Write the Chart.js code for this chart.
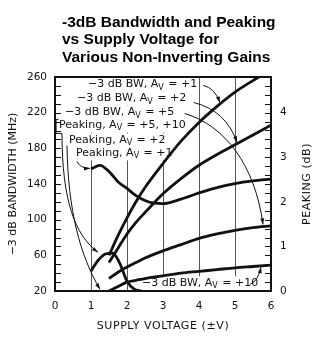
<!DOCTYPE html>
<html>
<head>
<meta charset="utf-8">
<script src="https://cdn.jsdelivr.net/npm/chart.js@4.4.1/dist/chart.umd.min.js"></script>
<style>
    html, body { margin: 0; padding: 0; background: #fff; }
    #wrap { width: 315px; height: 337px; }
</style>
</head>
<body>
<div id="wrap"><canvas id="chart" width="315" height="337"></canvas></div>
<script>
// -3 dB bandwidth (MHz) vs supply voltage (±V), one array per gain
const bwVolts = [1.5, 1.75, 2, 2.25, 2.5, 3, 3.5, 4, 4.5, 5, 5.5, 6];
const bwGain1 = [60, 82, 102, 120, 136, 163, 188, 209, 227, 243, 256, 268];
const bwGain2 = [52, 68, 84, 97, 108, 129, 146, 161, 173, 184, 195, 206];
const bwGain5 = [34, 41, 47, 52, 57, 65, 72, 79, 84, 88, 91, 93];
const bwGain10 = [20, 25, 30, 32, 34, 37, 40, 42, 44, 46, 47.5, 49];

// peaking (dB) vs supply voltage
const peakVolts1 = [1, 1.25, 1.5, 1.75, 2, 2.25, 2.5, 2.75, 3, 3.5, 4, 4.5, 5, 5.5, 6];
const peakGain1 = [2.74, 2.82, 2.68, 2.45, 2.3, 2.14, 2.03, 1.97, 1.96, 2.06, 2.2, 2.32, 2.41, 2.47, 2.51];
const peakVolts2 = [1, 1.2, 1.4, 1.6, 1.8, 2, 2.2, 2.4];
const peakGain2 = [0.45, 0.69, 0.83, 0.85, 0.62, 0.22, 0.04, 0];

// tick labels
const voltTicks = [0, 1, 2, 3, 4, 5, 6];
const bwTicks = [20, 60, 100, 140, 180, 220, 260];
const peakTicks = [0, 1, 2, 3, 4];

const ink = '#111';
const tickFont = { family: 'DejaVu Sans', size: 10.5 };
const labelFont = '11px "DejaVu Sans"';
const subFont = '8px "DejaVu Sans"';

function toPoints(xs, ys) {
    return xs.map((x, i) => ({ x: x, y: ys[i] }));
}

function curve(data, axis) {
    return {
        data: data,
        yAxisID: axis,
        borderColor: ink,
        borderWidth: 2.8,
        pointRadius: 0,
        fill: false,
        cubicInterpolationMode: 'monotone'
    };
}

function spaced(ctx, text, x, y, spacing) {
    if ('letterSpacing' in ctx) {
        ctx.letterSpacing = spacing + 'px';
        ctx.fillText(text, x, y);
        ctx.letterSpacing = '0px';
    } else {
        ctx.fillText(text, x, y);
    }
}

// text with subscript V, white box behind it
function gainLabel(ctx, x, y, head, tail) {
    ctx.textBaseline = 'middle';
    ctx.textAlign = 'left';
    ctx.font = labelFont;
    const w1 = ctx.measureText(head + 'A').width;
    ctx.font = subFont;
    const w2 = ctx.measureText('V').width;
    ctx.font = labelFont;
    const w3 = ctx.measureText(tail).width;
    ctx.fillStyle = '#fff';
    ctx.fillRect(x - 1, y - 7, w1 + w2 + w3 + 3, 14);
    ctx.fillStyle = ink;
    ctx.fillText(head + 'A', x, y);
    ctx.font = subFont;
    ctx.fillText('V', x + w1, y + 3);
    ctx.font = labelFont;
    ctx.fillText(tail, x + w1 + w2 + 1, y);
}

function arrow(ctx, pts) {
    ctx.beginPath();
    ctx.moveTo(pts[0][0], pts[0][1]);
    if (pts.length === 3) ctx.quadraticCurveTo(pts[1][0], pts[1][1], pts[2][0], pts[2][1]);
    else ctx.bezierCurveTo(pts[1][0], pts[1][1], pts[2][0], pts[2][1], pts[3][0], pts[3][1]);
    ctx.stroke();
    const end = pts[pts.length - 1], prev = pts[pts.length - 2];
    const a = Math.atan2(end[1] - prev[1], end[0] - prev[0]);
    ctx.beginPath();
    ctx.moveTo(end[0], end[1]);
    ctx.lineTo(end[0] - 6 * Math.cos(a) + 2 * Math.sin(a), end[1] - 6 * Math.sin(a) - 2 * Math.cos(a));
    ctx.lineTo(end[0] - 6 * Math.cos(a) - 2 * Math.sin(a), end[1] - 6 * Math.sin(a) + 2 * Math.cos(a));
    ctx.closePath();
    ctx.fill();
}

const labelsPlugin = {
    id: 'labels',
    beforeDatasetsDraw(chart) {
        const ctx = chart.ctx;
        const xs = chart.scales.x, ys = chart.scales.y;
        const P = (v, m) => [xs.getPixelForValue(v), ys.getPixelForValue(m)];
        ctx.save();
        const rows = [
            [0.917, 251.6, '\u22123 dB BW, ', '= +1'],
            [0.611, 235.9, '\u22123 dB BW, ', '= +2'],
            [0.278, 220.2, '\u22123 dB BW, ', '= +5'],
            [0.111, 205.7, 'Peaking, ', '= +5, +10'],
            [0.389, 188.9, 'Peaking, ', '= +2'],
            [0.583, 174.3, 'Peaking, ', '= +1'],
            [2.417, 28.6, '\u22123 dB BW, ', '= +10']
        ];
        rows.forEach(r => {
            const p = P(r[0], r[1]);
            gainLabel(ctx, p[0], p[1], r[2], ' ' + r[3]);
        });
        ctx.restore();
    },
    afterDatasetsDraw(chart) {
        const ctx = chart.ctx;
        const area = chart.chartArea;
        const xs = chart.scales.x, ys = chart.scales.y, ys2 = chart.scales.y2;
        const P = (v, m) => [xs.getPixelForValue(v), ys.getPixelForValue(m)];
        ctx.save();
        ctx.strokeStyle = ink;
        ctx.fillStyle = ink;
        ctx.lineWidth = 1;

        // leader arrows
        arrow(ctx, [P(4.12, 250.5), P(4.417, 248.3), P(4.583, 231.4)]);
        arrow(ctx, [P(3.85, 231.4), P(4.75, 222.5), P(5.056, 186.6)]);
        arrow(ctx, [P(3.6, 219.1), P(4.722, 205.7), P(5.556, 160.9), P(5.778, 94.7)]);
        arrow(ctx, [P(0.611, 165.3), P(0.694, 157.5), P(0.972, 157.5)]);
        arrow(ctx, [P(0.194, 196.7), P(0.194, 121.6), P(0.556, 82.4), P(1.194, 63.4)]);
        arrow(ctx, [P(0.333, 183.3), P(0.361, 110.4), P(0.694, 60.0), P(1.25, 21.9)]);
        arrow(ctx, [P(5.42, 27.5), P(5.639, 30.9), P(5.722, 46.6)]);

        // bracket for the +5, +10 label
        const b1 = P(0.1, 212.5), b2 = P(0.03, 212.5), b3 = P(0.03, 196.7), b4 = P(0.194, 196.7);
        ctx.beginPath();
        ctx.moveTo(b1[0], b1[1]); ctx.lineTo(b2[0], b2[1]); ctx.lineTo(b3[0], b3[1]); ctx.lineTo(b4[0], b4[1]);
        ctx.stroke();

        // inside ticks, left every 10 MHz, right every 0.2 dB
        ctx.beginPath();
        for (let m = ys.min; m <= ys.max + 0.01; m += 10) {
            const y = Math.round(ys.getPixelForValue(m)) + 0.5;
            ctx.moveTo(area.left, y); ctx.lineTo(area.left + 6, y);
        }
        for (let d = ys2.min; d <= ys2.max + 0.001; d += 0.2) {
            const y = Math.round(ys2.getPixelForValue(d)) + 0.5;
            ctx.moveTo(area.right - 6, y); ctx.lineTo(area.right, y);
        }
        ctx.stroke();

        // frame
        ctx.lineWidth = 2;
        ctx.strokeRect(area.left, area.top, area.right - area.left, area.bottom - area.top);
        ctx.restore();
    },
    afterDraw(chart) {
        const ctx = chart.ctx;
        const area = chart.chartArea;
        ctx.save();
        ctx.fillStyle = '#000';
        ctx.textAlign = 'left';
        ctx.textBaseline = 'alphabetic';
        ctx.font = 'bold 15.5px "Liberation Sans", Arial, sans-serif';
        ctx.fillText('-3dB Bandwidth and Peaking', 62, 26.5);
        ctx.fillText('vs Supply Voltage for', 62, 44);
        ctx.fillText('Various Non-Inverting Gains', 62, 61.5);

        ctx.fillStyle = ink;
        ctx.textAlign = 'center';
        ctx.textBaseline = 'middle';
        ctx.font = '11px "DejaVu Sans"';
        spaced(ctx, 'SUPPLY VOLTAGE (\u00b1V)', (area.left + area.right) / 2, 326, 0.6);

        const midY = (area.top + area.bottom) / 2;
        ctx.save();
        ctx.translate(13, midY);
        ctx.rotate(-Math.PI / 2);
        ctx.fillText('\u22123 dB BANDWIDTH (MHz)', 0, 0);
        ctx.restore();

        ctx.save();
        ctx.translate(307, midY);
        ctx.rotate(-Math.PI / 2);
        spaced(ctx, 'PEAKING (dB)', 0, 0, 0.6);
        ctx.restore();
        ctx.restore();
    }
};

new Chart(document.getElementById('chart'), {
    type: 'line',
    data: {
        datasets: [
            curve(toPoints(bwVolts, bwGain1), 'y'),
            curve(toPoints(bwVolts, bwGain2), 'y'),
            curve(toPoints(bwVolts, bwGain5), 'y'),
            curve(toPoints(bwVolts, bwGain10), 'y'),
            curve(toPoints(peakVolts1, peakGain1), 'y2'),
            curve(toPoints(peakVolts2, peakGain2), 'y2')
        ]
    },
    options: {
        responsive: false,
        animation: false,
        devicePixelRatio: 1,
        layout: { padding: { top: 77, left: 0, right: 0, bottom: 0 } },
        plugins: { legend: { display: false }, tooltip: { enabled: false }, title: { display: false } },
        scales: {
            x: {
                type: 'linear', min: 0, max: 6,
                afterBuildTicks: s => { s.ticks = voltTicks.map(v => ({ value: v })); },
                afterFit: s => { s.height = 46; },
                ticks: { color: ink, font: tickFont, padding: 9, maxRotation: 0 },
                grid: { color: '#555', lineWidth: 1, drawTicks: false },
                border: { display: false }
            },
            y: {
                position: 'left', min: 20, max: 260,
                afterBuildTicks: s => { s.ticks = bwTicks.map(v => ({ value: v })); },
                afterFit: s => { s.width = 55; },
                ticks: { color: ink, font: tickFont, padding: 8 },
                grid: { display: false, drawTicks: false },
                border: { display: false }
            },
            y2: {
                position: 'right', min: 0, max: 4.8,
                afterBuildTicks: s => { s.ticks = peakTicks.map(v => ({ value: v })); },
                afterFit: s => { s.width = 44; },
                ticks: { color: ink, font: tickFont, padding: 9 },
                grid: { display: false, drawTicks: false },
                border: { display: false }
            }
        }
    },
    plugins: [labelsPlugin]
});
</script>
</body>
</html>
